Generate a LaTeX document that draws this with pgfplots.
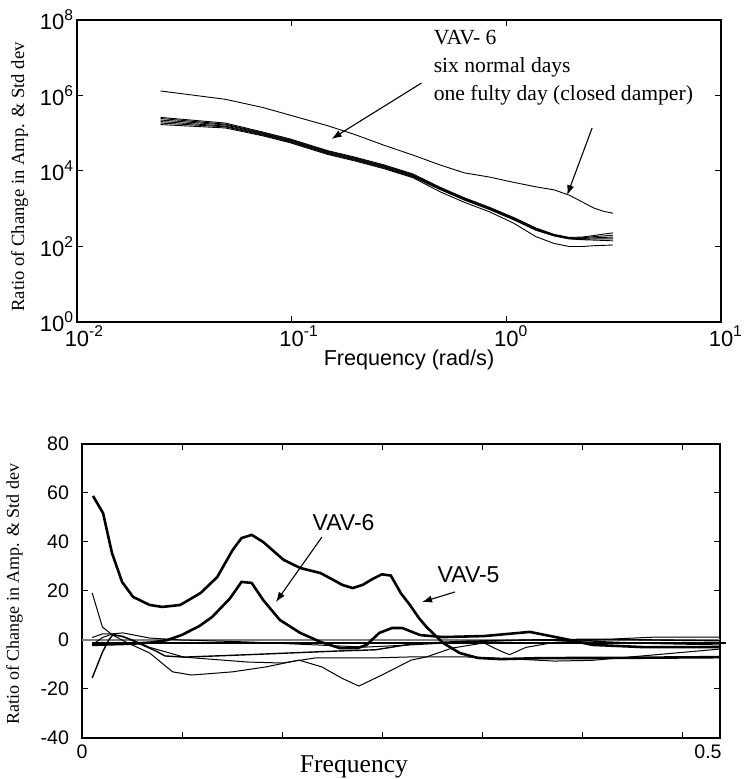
\documentclass[border=0pt]{standalone}
\usepackage{fontspec}
\setmainfont{Liberation Serif}
\setsansfont{Liberation Sans}
\usepackage{pgfplots}
\usepackage{pgfplotstable}
\pgfplotsset{compat=1.18}
\usetikzlibrary{arrows.meta}

% log10 of ratio, six normal days + faulty day (VAV-6)
\pgfplotstableread{
f      n1   n2   n3   n4   n5   n6   fault
0.0245 5.42 5.39 5.35 5.31 5.27 5.23 6.12
0.0491 5.27 5.24 5.22 5.19 5.17 5.14 5.90
0.0736 5.03 5.01 4.99 4.97 4.95 4.93 5.68
0.0982 4.85 4.83 4.81 4.79 4.77 4.75 5.48
0.147  4.54 4.52 4.50 4.48 4.46 4.44 5.20
0.196  4.37 4.35 4.33 4.31 4.29 4.27 4.97
0.270  4.16 4.14 4.12 4.10 4.08 4.06 4.68
0.368  3.92 3.90 3.88 3.86 3.84 3.82 4.42
0.491  3.57 3.55 3.54 3.52 3.51 3.45 4.16
0.638  3.29 3.27 3.26 3.24 3.23 3.17 3.95
0.834  3.04 3.02 3.01 2.99 2.98 2.92 3.84
1.080  2.77 2.76 2.74 2.72 2.71 2.62 3.70
1.374  2.49 2.48 2.46 2.44 2.43 2.26 3.58
1.669  2.32 2.31 2.30 2.29 2.28 2.08 3.50
1.963  2.24 2.23 2.22 2.21 2.20 2.00 3.36
2.258  2.25 2.23 2.21 2.19 2.18 2.00 3.18
2.553  2.29 2.26 2.23 2.20 2.17 2.02 3.02
2.847  2.33 2.28 2.24 2.20 2.16 2.03 2.93
3.142  2.36 2.30 2.25 2.20 2.15 2.04 2.88
}\spectra

\newcommand{\pw}[1]{10\raisebox{0.8ex}{\fontsize{7.8}{8}\selectfont #1}}
\newcommand{\pwx}[1]{10\rlap{\raisebox{0.8ex}{\fontsize{7.8}{8}\selectfont #1}}}

\begin{document}
\begin{tikzpicture}
\path[use as bounding box] (0,0) rectangle (372pt,389.5pt);

% ---- top: spectra ----
\begin{axis}[
  at={(38.5pt,228.5pt)}, anchor=south west,
  scale only axis, width=322pt, height=151pt,
  xmode=log, xmin=0.01, xmax=10, ymin=0, ymax=8,
  xtick={0.01,0.1,1,10},
  xticklabels={\pwx{-2},\pwx{-1},\pwx{0},\pwx{1}},
  ytick={0,2,4,6,8},
  yticklabels={\pw{0},\pw{2},\pw{4},\pw{6},\pw{8}},
  xminorticks=false,
  tick align=inside, major tick length=3pt,
  axis line style={line width=1pt},
  tick style={black, line width=0.5pt},
  tick label style={font=\sffamily\fontsize{11}{13}\selectfont},
  yticklabel style={xshift=1.5pt},
  xticklabel style={yshift=1.5pt},
  clip=false,
]
\addplot[black, line width=0.45pt] table[x=f,y=n1]{\spectra};
\addplot[black, line width=0.45pt] table[x=f,y=n2]{\spectra};
\addplot[black, line width=0.45pt] table[x=f,y=n3]{\spectra};
\addplot[black, line width=0.45pt] table[x=f,y=n4]{\spectra};
\addplot[black, line width=0.45pt] table[x=f,y=n5]{\spectra};
\addplot[black, line width=0.45pt] table[x=f,y=n6]{\spectra};
\addplot[black, line width=0.45pt] table[x=f,y=fault]{\spectra};

\node[anchor=base west, inner sep=0, font=\rmfamily\fontsize{10.8}{13}\selectfont] at (axis cs:0.4575,7.34) {VAV- 6};
\node[anchor=base west, inner sep=0, font=\rmfamily\fontsize{10.8}{13}\selectfont] at (axis cs:0.4575,6.60) {six normal days};
\node[anchor=base west, inner sep=0, font=\rmfamily\fontsize{10.8}{13}\selectfont] at (axis cs:0.4575,5.88) {one fulty day (closed damper)};
\draw[-{Latex[length=5pt,width=3.6pt]}, line width=0.55pt] (axis cs:0.4025,6.33) -- (axis cs:0.1535,4.85);
\draw[-{Latex[length=5pt,width=3.6pt]}, line width=0.55pt] (axis cs:2.51,5.14) -- (axis cs:1.92,3.36);
\end{axis}

\node[anchor=base, font=\sffamily\fontsize{10.8}{13}\selectfont] at (204.5pt,206.5pt) {Frequency (rad/s)};
\node[rotate=90, font=\rmfamily\fontsize{9.3}{11}\selectfont] at (9.75pt,301pt) {Ratio of Change in Amp. \& Std dev};

% ---- bottom: change ratio ----
\begin{axis}[
  at={(41pt,20.5pt)}, anchor=south west,
  scale only axis, width=319pt, height=147pt,
  xmin=0, xmax=0.5, ymin=-40, ymax=80,
  xtick={0,0.0784,0.1568,0.2352,0.3136,0.392,0.4704},
  xticklabels={0,,,,,,},
  extra x ticks={0.5}, extra x tick labels={0.5},
  extra x tick style={major tick length=0pt, xticklabel style={xshift=-6pt}},
  ytick={-40,-20,0,20,40,60,80},
  yticklabels={-40,-20,0,20,40,60,80},
  tick align=inside, major tick length=3pt,
  axis line style={line width=1pt},
  tick style={black, line width=0.5pt},
  tick label style={font=\sffamily\fontsize{9.8}{11}\selectfont},
  yticklabel style={xshift=-3pt},
  clip=false,
]
\addplot[gray, line width=0.6pt] coordinates {(0,0) (0.5,0)};
\addplot[black, line width=0.8pt] coordinates {(0.008,-1.3) (0.505,-1.3)};
% thin curves
\addplot[black, line width=0.5pt] coordinates {
(0.008,19.2)(0.016,5.3)(0.024,2.0)(0.035,-1.0)(0.053,-5.3)(0.071,-13.0)(0.086,-14.3)
(0.118,-13.0)(0.144,-11.0)(0.170,-8.2)(0.188,-11.0)(0.204,-15.7)(0.217,-18.8)(0.235,-14.3)
(0.258,-8.2)(0.270,-6.9)(0.290,-3.3)(0.315,-1.2)(0.328,-4.5)(0.335,-6.0)(0.348,-3.0)
(0.370,-1.0)(0.420,0.5)(0.450,1.2)(0.500,1.2)};
\addplot[black, line width=0.7pt] coordinates {
(0.008,-15.5)(0.016,-5.0)(0.021,0.0)(0.024,2.0)(0.032,1.5)(0.045,-1.5)(0.058,-4.5)
(0.065,-6.5)(0.080,-7.0)(0.130,-6.0)(0.200,-4.5)(0.230,-4.0)(0.260,-1.5)(0.300,-0.5)
(0.350,0.0)(0.400,0.3)(0.500,-0.3)};
\addplot[black, line width=0.5pt] coordinates {
(0.008,-2.0)(0.016,1.0)(0.024,2.5)(0.032,2.9)(0.053,0.8)(0.078,0.0)(0.130,-0.8)
(0.183,-2.0)(0.222,-2.9)(0.258,-2.0)(0.300,-0.8)(0.350,0.0)(0.400,-0.5)(0.450,-1.5)(0.500,-2.0)};
\addplot[black, line width=0.5pt] coordinates {
(0.008,1.0)(0.016,2.5)(0.024,2.5)(0.040,0.0)(0.053,-3.0)(0.070,-5.5)(0.080,-7.0)
(0.130,-9.0)(0.157,-9.4)(0.183,-7.3)(0.230,-7.3)(0.258,-6.9)(0.300,-6.9)(0.330,-7.5)
(0.370,-8.6)(0.400,-8.3)(0.450,-6.0)(0.500,-3.7)};
% VAV-5
\addplot[black, line width=1.3pt] coordinates {
(0.0086,58.8)(0.0165,51.8)(0.0235,35.5)(0.0314,23.7)(0.040,17.6)(0.053,14.3)(0.063,13.5)
(0.077,14.3)(0.093,19.2)(0.106,25.7)(0.118,36.7)(0.125,41.6)(0.133,42.9)(0.142,40.0)
(0.158,32.7)(0.171,29.4)(0.187,27.3)(0.197,24.5)(0.204,22.5)(0.212,21.2)(0.220,22.5)
(0.228,25.0)(0.235,26.8)(0.242,26.3)(0.250,19.0)(0.257,14.3)(0.264,9.0)(0.270,5.3)
(0.283,-1.2)(0.296,-5.3)(0.310,-7.3)(0.328,-7.8)(0.360,-7.4)(0.420,-7.3)(0.500,-7.0)};
% VAV-6
\addplot[black, line width=1.3pt] coordinates {
(0.008,-2.0)(0.020,-1.8)(0.040,-1.5)(0.055,-1.0)(0.067,0.0)(0.078,2.0)(0.092,5.7)
(0.102,9.4)(0.116,17.0)(0.125,23.7)(0.133,23.3)(0.142,16.3)(0.155,8.2)(0.171,2.9)
(0.187,-0.8)(0.202,-3.3)(0.216,-3.3)(0.223,-2.0)(0.233,2.9)(0.243,4.9)(0.251,4.9)
(0.265,2.0)(0.283,1.2)(0.315,1.6)(0.351,3.3)(0.375,0.8)(0.400,-2.0)(0.440,-2.9)(0.500,-2.9)};

\node[font=\sffamily\fontsize{11.5}{13}\selectfont] at (axis cs:0.205,47.8) {VAV-6};
\node[font=\sffamily\fontsize{11.5}{13}\selectfont] at (axis cs:0.303,26.5) {VAV-5};
\draw[-{Latex[length=5pt,width=3.6pt]}, line width=0.55pt] (axis cs:0.188,42.0) -- (axis cs:0.152,15.5);
\draw[-{Latex[length=5pt,width=3.6pt]}, line width=0.55pt] (axis cs:0.2923,19.6) -- (axis cs:0.2665,15.5);
\end{axis}

\node[anchor=base, font=\rmfamily\fontsize{12.8}{15}\selectfont] at (177pt,3pt) {Frequency};
\node[rotate=90, font=\rmfamily\fontsize{9}{11}\selectfont] at (7.25pt,92.5pt) {Ratio of Change in Amp. \& Std dev};
\end{tikzpicture}
\end{document}
